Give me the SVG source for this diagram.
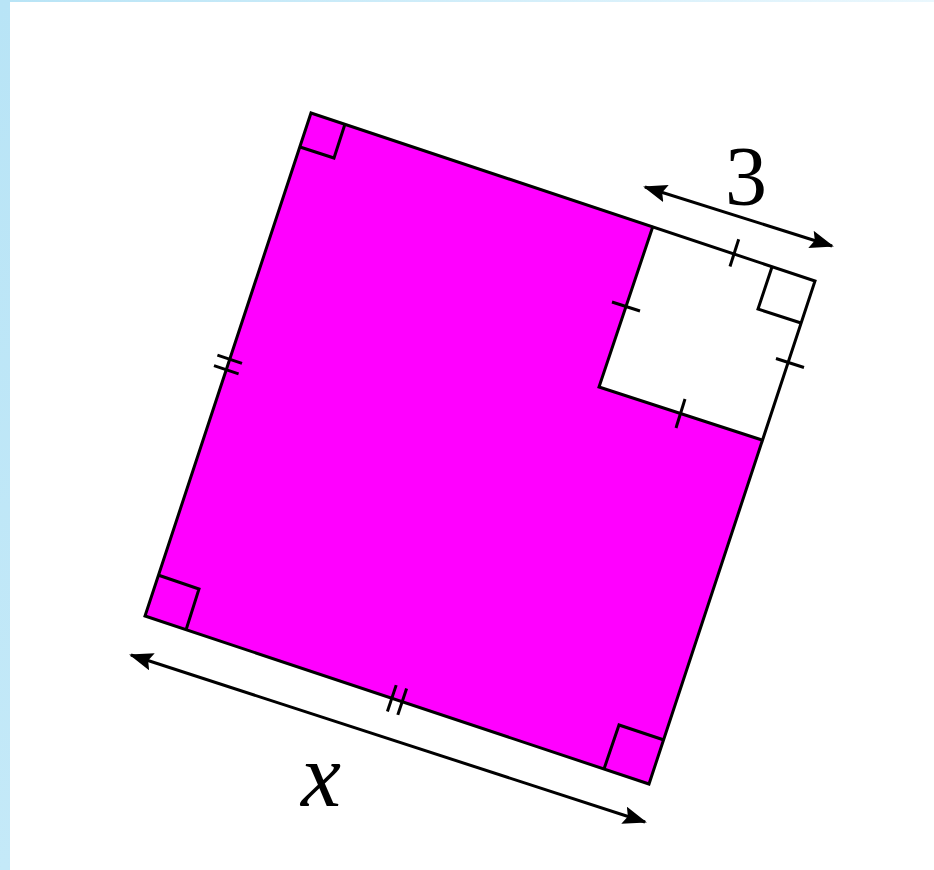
<svg xmlns="http://www.w3.org/2000/svg" width="934" height="870" viewBox="0 0 934 870">
  <defs>
    <linearGradient id="topGrad" x1="0" y1="0" x2="1" y2="0">
      <stop offset="0" stop-color="#b8e4f6"/>
      <stop offset="1" stop-color="#eaf7fd"/>
    </linearGradient>
    <linearGradient id="leftGrad" x1="0" y1="0" x2="0" y2="1">
      <stop offset="0" stop-color="#b8e4f6"/>
      <stop offset="1" stop-color="#c4e9f8"/>
    </linearGradient>
    <marker id="arr" viewBox="0 0 24 18" refX="22" refY="9" markerWidth="24" markerHeight="18" markerUnits="userSpaceOnUse" orient="auto-start-reverse">
      <path d="M0,0 L24,9 L0,18 L4,9 Z" fill="#000"/>
    </marker>
  </defs>
  <style>
    .edge { fill: none; stroke: #000; stroke-width: 3; stroke-linejoin: miter; }
    .tick { fill: none; stroke: #000; stroke-width: 3; }
    .dim { fill: none; stroke: #000; stroke-width: 3; marker-start: url(#arr); marker-end: url(#arr); }
    .lbl { fill: #000; text-anchor: middle; }
  </style>
  <rect x="0" y="0" width="934" height="870" fill="#fff"/>
  <rect x="0" y="0" width="934" height="2" fill="url(#topGrad)"/>
  <rect x="0" y="0" width="10" height="870" fill="url(#leftGrad)"/>

  <g id="shaded-region">
    <polygon points="311,113 653,226 599,387 762,440 649,784 145,616" fill="#ff00ff"/>
  </g>

  <g id="big-square">
    <polygon class="edge" points="311,113 815,281 649,784 145,616"/>
    <polyline class="edge" points="345,124 334,158 300,147"/>
    <polyline class="edge" points="158,575 199,589 186,630"/>
    <polyline class="edge" points="604,769 619,725 664,740"/>
    <line class="tick" x1="217.4" y1="355.2" x2="242" y2="363.4"/>
    <line class="tick" x1="214" y1="365.6" x2="238.6" y2="373.8"/>
    <line class="tick" x1="396.2" y1="685.1" x2="387.4" y2="711.5"/>
    <line class="tick" x1="406.6" y1="688.5" x2="397.8" y2="714.9"/>
  </g>

  <g id="small-square">
    <polyline class="edge" points="653,226 599,387 762,440"/>
    <polyline class="edge" points="772,267 758,309 801,323"/>
    <line class="tick" x1="738.7" y1="239.3" x2="730" y2="266.5"/>
    <line class="tick" x1="612" y1="302" x2="640" y2="311"/>
    <line class="tick" x1="776" y1="358.5" x2="804" y2="367.5"/>
    <line class="tick" x1="685" y1="399" x2="676" y2="428"/>
  </g>

  <g id="connectors">
    <line class="dim" x1="645" y1="187" x2="832" y2="246"/>
    <line class="dim" x1="131" y1="655" x2="645" y2="822"/>
  </g>

  <g id="labels">
    <text class="lbl" x="746" y="205" font-size="84" font-family="'Liberation Serif', 'Times New Roman', serif">3</text>
    <text class="lbl" x="321" y="806" font-size="90" font-style="italic" font-family="'Liberation Serif', 'Times New Roman', serif">x</text>
  </g>
</svg>
